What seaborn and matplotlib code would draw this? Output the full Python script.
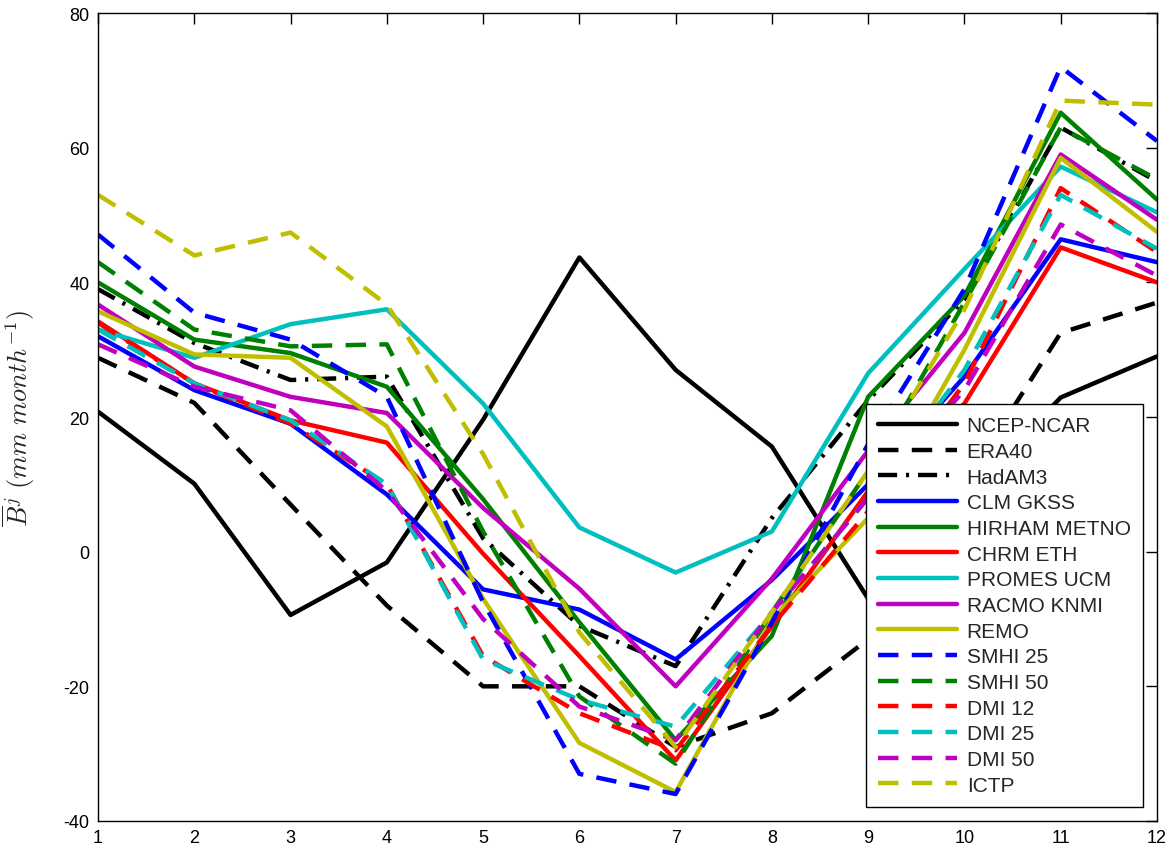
import matplotlib
matplotlib.use("Agg")
import matplotlib.pyplot as plt
import seaborn as sns
import pandas as pd

months = list(range(1, 13))

ncep_ncar = [20.8, 10.1, -9.4, -1.6, 19.6, 43.7, 27.0, 15.6, -7.0, 8.0, 22.9, 29.0]
era40 = [28.8, 22.1, 7.0, -8.0, -20.0, -20.0, -29.0, -24.0, -13.0, 10.0, 32.5, 37.0]
hadam3 = [39.0, 31.0, 25.5, 26.0, 2.0, -11.0, -17.0, 5.0, 22.5, 37.5, 63.0, 55.0]
clm_gkss = [32.0, 24.0, 19.0, 8.5, -5.6, -8.6, -16.0, -4.2, 10.0, 26.0, 46.4, 43.0]
hirham_metno = [40.0, 31.5, 29.5, 24.5, 7.8, -10.5, -28.0, -12.5, 23.0, 38.0, 65.2, 52.3]
chrm_eth = [34.2, 25.0, 19.5, 16.2, -0.3, -15.5, -31.0, -11.0, 9.0, 22.0, 45.2, 40.0]
promes_ucm = [33.0, 28.8, 33.8, 36.0, 22.0, 3.6, -3.1, 3.0, 26.5, 42.0, 57.2, 50.4]
racmo_knmi = [36.7, 27.5, 23.0, 20.6, 6.5, -5.5, -20.0, -4.0, 15.0, 32.5, 59.0, 49.3]
remo = [35.7, 29.3, 28.8, 18.6, -7.0, -28.4, -35.7, -10.0, 5.0, 30.0, 58.5, 47.5]
smhi_25 = [47.1, 35.5, 31.5, 23.0, -7.5, -33.0, -36.0, -10.5, 16.0, 39.0, 72.0, 61.0]
smhi_50 = [43.0, 33.0, 30.5, 30.8, 3.0, -21.5, -31.5, -9.0, 12.0, 37.0, 63.0, 55.3]
dmi_12 = [34.0, 25.0, 19.0, 10.0, -15.5, -24.0, -29.5, -11.0, 6.0, 25.0, 54.0, 44.5]
dmi_25 = [33.0, 25.0, 19.5, 10.0, -16.0, -22.0, -26.0, -9.0, 8.0, 27.0, 53.0, 45.0]
dmi_50 = [30.8, 24.5, 21.0, 9.0, -10.0, -23.0, -28.0, -9.0, 8.0, 24.0, 48.6, 41.0]
ictp = [53.0, 44.0, 47.4, 36.7, 14.5, -12.0, -29.0, -9.0, 12.0, 36.0, 67.0, 66.4]

names = ["NCEP-NCAR", "ERA40", "HadAM3", "CLM GKSS", "HIRHAM METNO",
         "CHRM ETH", "PROMES UCM", "RACMO KNMI", "REMO", "SMHI 25",
         "SMHI 50", "DMI 12", "DMI 25", "DMI 50", "ICTP"]
series = [ncep_ncar, era40, hadam3, clm_gkss, hirham_metno, chrm_eth,
          promes_ucm, racmo_knmi, remo, smhi_25, smhi_50, dmi_12, dmi_25,
          dmi_50, ictp]

K, B, G, R = (0, 0, 0), (0, 0, 1), (0, 0.5, 0), (1, 0, 0)
C, M, Y = (0, 0.75, 0.75), (0.75, 0, 0.75), (0.75, 0.75, 0)
colors = [K, K, K, B, G, R, C, M, Y, B, G, R, C, M, Y]

solid = ""
dash = (4.6, 3.0)
dashdot = (4.3, 2.0, 0.7, 2.0)
styles = [solid, dash, dashdot] + [solid] * 6 + [dash] * 6

df = pd.DataFrame({
    "month": [m for _ in names for m in months],
    "value": [v for s in series for v in s],
    "model": [n for n in names for _ in months],
})

sns.set_style("white")
plt.rcParams["font.family"] = ["Liberation Sans", "DejaVu Sans"]
plt.rcParams["mathtext.fontset"] = "cm"
plt.rcParams["axes.unicode_minus"] = False

fig = plt.figure(figsize=(11.74, 8.54), dpi=100)
ax = fig.add_axes([0.0835, 0.0375, 0.902, 0.946])

sns.lineplot(data=df, x="month", y="value", hue="model", style="model",
             hue_order=names, style_order=names,
             palette=dict(zip(names, colors)),
             dashes=dict(zip(names, styles)),
             linewidth=3.2, errorbar=None, sort=False, legend=False, ax=ax)

ax.set_xlim(1, 12)
ax.set_ylim(-40, 80)
ax.set_xticks(months)
ax.set_yticks(range(-40, 81, 20))
ax.tick_params(direction="in", length=8, width=1, top=True, right=True,
               labelsize=13, pad=6, colors="black")
for sp in ax.spines.values():
    sp.set_color("black")
    sp.set_linewidth(1)
ax.set_xlabel("")
ax.set_ylabel(r"$\overline{B}^{j}\ (mm\ month^{-1})$", fontsize=19)
ax.yaxis.set_label_coords(-0.058, 0.5)

leg = ax.legend(handles=ax.get_lines(), labels=names, loc="lower right",
                bbox_to_anchor=(0.987, 0.017), borderaxespad=0,
                fontsize=15, handlelength=3.8, handletextpad=0.45,
                labelspacing=0.32, borderpad=0.6, frameon=True,
                fancybox=False, framealpha=1, edgecolor="black")
leg.get_frame().set_linewidth(1)

fig.savefig("out.png", dpi=100)
